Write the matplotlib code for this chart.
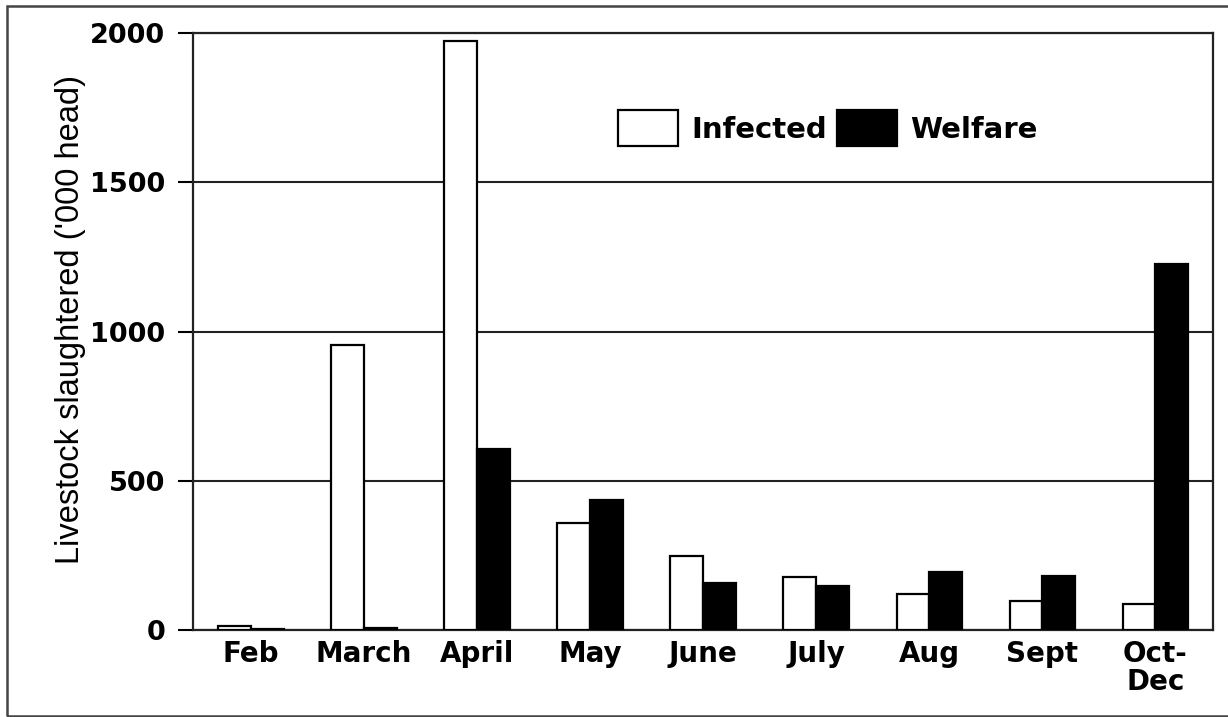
import matplotlib.pyplot as plt
import numpy as np
from matplotlib.patches import Patch, Rectangle

# livestock slaughtered ('000 head)
months = ["Feb", "March", "April", "May", "June", "July", "Aug", "Sept", "Oct-\nDec"]
infected = [15, 955, 1975, 358, 248, 176, 120, 96, 87]
welfare = [3, 8, 606, 435, 158, 147, 195, 182, 1226]
yticks = [0, 500, 1000, 1500, 2000]

plt.rcParams["font.family"] = ["DejaVu Sans"]

fig = plt.figure(figsize=(12.28, 7.17), dpi=100)
ax = fig.add_axes([0.1572, 0.1213, 0.8306, 0.8326])

# outer frame of the original figure
fig.patches.append(Rectangle((7 / 1228, 1 - 716 / 717), 1.2, (716 - 6) / 717,
                             transform=fig.transFigure, fill=False,
                             edgecolor="#444444", linewidth=1.8, zorder=0))

x = np.arange(len(months))
w = 0.29
ax.bar(x - w / 2, infected, w, color="white", edgecolor="black", linewidth=1.6, zorder=3)
ax.bar(x + w / 2, welfare, w, color="black", edgecolor="black", linewidth=1.6, zorder=3)

ax.set_xlim(-0.513, 8.51)
ax.set_ylim(0, 2000)
ax.set_yticks(yticks)
ax.set_yticklabels([str(v) for v in yticks], fontsize=19.5, fontweight="bold")
ax.set_xticks(x)
ax.set_xticklabels(months, fontsize=20, fontweight="bold", linespacing=1.0)
ax.tick_params(axis="x", length=0, pad=7)
ax.tick_params(axis="y", length=11, width=1.5, pad=9, direction="out")

ax.grid(axis="y", color="#222222", linewidth=1.5, zorder=0)
for s in ax.spines.values():
    s.set_linewidth(1.6)
    s.set_color("#222222")

ax.set_ylabel("Livestock slaughtered ('000 head)", fontsize=23.5, family="Liberation Sans")
ax.yaxis.set_label_coords(-0.105, 0.52)

handles = [Patch(facecolor="white", edgecolor="black", linewidth=1.6, label="Infected"),
           Patch(facecolor="black", edgecolor="black", linewidth=1.6, label="Welfare")]
leg = ax.legend(handles=handles, ncol=2, frameon=False, loc="center",
                bbox_to_anchor=(828 / 1228, 1 - 128 / 717), bbox_transform=fig.transFigure,
                prop={"size": 21, "weight": "bold"}, handlelength=2.05, handleheight=1.5,
                handletextpad=0.45, columnspacing=0.35)

fig.savefig("out.png", dpi=100, facecolor="white")
